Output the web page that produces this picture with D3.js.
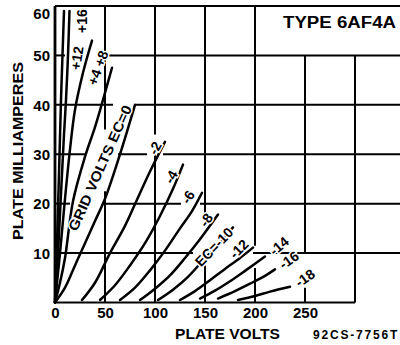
<!DOCTYPE html>
<html><head><meta charset="utf-8">
<script src="https://cdn.jsdelivr.net/npm/d3@7"></script>
<style>
html,body{margin:0;padding:0;background:#fff;}
svg{display:block;}
text{font-family:"Liberation Sans",Arial,sans-serif;font-weight:bold;fill:#000;}
</style></head>
<body>
<svg id="chart" width="400" height="345"></svg>
<script>
// ---- data (plate volts, plate milliamperes) ----
const xTicks = [0, 50, 100, 150, 200, 250];
const yTicks = [10, 20, 30, 40, 50, 60];
const gridVoltLabels = ["+16", "+12", "+4 +8", "GRID VOLTS EC=0", "-2", "-4", "-6", "-8", "EC=-10", "-12", "-14", "-16", "-18"];

const ecP16 = [[0,0],[2,12],[4,26],[6,41],[8,53],[9,59]];
const ecP12 = [[0,0],[3,10],[6,22],[9,34],[11,41],[13,50],[14.5,59]];
const ecP8  = [[0,0],[5,10],[10,21],[15,31],[20,39],[28,46.5],[37,53]];
const ecP4  = [[0,0],[5,4],[10,9],[18,20.5],[30,29.5],[40,35.5],[48,41],[57,47.5]];
const ec0   = [[0,0],[10,3],[20,7.5],[30,12],[40,16.5],[50,21],[65,30],[80,40]];
const ecM2  = [[27,0.5],[40,4],[55,10],[70,15.5],[82,20.8],[95,26.5],[110,32.5]];
const ecM4  = [[45,0.5],[60,3.5],[75,7.5],[90,12],[105,17.5],[118,23],[128,27.9]];
const ecM6  = [[65,0.5],[80,3],[95,6.5],[110,10.5],[125,15],[137,18.5],[147,22.2]];
const ecM8  = [[85,0.5],[100,2.8],[115,5.5],[130,9],[145,12.8],[163,17.8]];
const ecM10 = [[103,0.5],[118,2.6],[133,5.2],[148,8.5],[163,11.8],[178,15.2]];
const ecM12 = [[125,0.5],[140,2.3],[155,4.5],[170,6.8],[185,9],[198,11.1]];
const ecM14 = [[145,0.8],[160,2.4],[175,4.3],[190,6.4],[210,9.3]];
const ecM16 = [[163,0.8],[180,2.3],[195,3.8],[210,5.4],[220,6.7]];
const ecM18 = [[183,0.5],[200,1.3],[215,2.2],[235,3.2]];

const curves = [ecP16, ecP12, ecP8, ecP4, ec0, ecM2, ecM4, ecM6, ecM8, ecM10, ecM12, ecM14, ecM16, ecM18];

// grid segments: [value, from, to]
const vGrid = [[50,0,22.5],[50,35,60],[100,0,30],[100,34,60],[150,0,7.5],[150,18,60],
               [200,0,7],[200,11.5,60],[250,0,3],[250,10,50],[300,0,50]];
const hGrid = [[50,0,10],[50,50,350],[40,0,58],[40,80,350],[30,0,30],[30,63,92],[30,108,350],
               [20,0,15],[20,48,126],[20,145,350],[10,0,138],[10,198,350]];

// ---- layout ----
const svg = d3.select("#chart");
const x = d3.scaleLinear().domain([0, 350]).range([55, 405]);
const y = d3.scaleLinear().domain([0, 60]).range([302.5, 6]);

const g = svg.append("g");

// frame
g.append("line").attr("x1", x(0)).attr("x2", x(0)).attr("y1", y(0)).attr("y2", y(60))
  .attr("stroke", "#000").attr("stroke-width", 2.8);
g.append("line").attr("x1", x(0)).attr("x2", x(350)).attr("y1", y(60)).attr("y2", y(60))
  .attr("stroke", "#000").attr("stroke-width", 2);
g.append("line").attr("x1", x(0)).attr("x2", x(300)).attr("y1", y(0)).attr("y2", y(0))
  .attr("stroke", "#000").attr("stroke-width", 2);

g.selectAll(".vg").data(vGrid).join("line").attr("class", "vg")
  .attr("x1", d => x(d[0])).attr("x2", d => x(d[0]))
  .attr("y1", d => y(d[1])).attr("y2", d => y(d[2]))
  .attr("stroke", "#000").attr("stroke-width", 2);
g.selectAll(".hg").data(hGrid).join("line").attr("class", "hg")
  .attr("y1", d => y(d[0])).attr("y2", d => y(d[0]))
  .attr("x1", d => x(d[1])).attr("x2", d => x(d[2]))
  .attr("stroke", "#000").attr("stroke-width", 2);

// curves
const line = d3.line().x(d => x(d[0])).y(d => y(d[1])).curve(d3.curveCatmullRom.alpha(0.5));
g.selectAll(".curve").data(curves).join("path").attr("class", "curve")
  .attr("d", line).attr("fill", "none").attr("stroke", "#000").attr("stroke-width", 2.5)
  .attr("stroke-linecap", "round");

// axes (tick labels only)
const xAxis = svg.append("g").attr("transform", `translate(0,${y(0)})`)
  .call(d3.axisBottom(x).tickValues(xTicks).tickSize(0).tickPadding(5));
xAxis.select(".domain").remove();
xAxis.selectAll("text").style("font-size", "15px").style("font-family", "Liberation Sans, Arial, sans-serif").style("font-weight", "bold");

const yAxis = svg.append("g").attr("transform", `translate(${x(0)},0)`)
  .call(d3.axisLeft(y).tickValues(yTicks).tickSize(0).tickPadding(5));
yAxis.select(".domain").remove();
yAxis.selectAll("text").style("font-size", "15px").style("font-family", "Liberation Sans, Arial, sans-serif").style("font-weight", "bold")
  .attr("dy", d => d === 60 ? "0.85em" : "0.35em");

// curve labels
const labelPos = [[82,21,-90,0],[77,58,-82,0],[98,68,-70,0],[100,168,-66,136],[155,148,-62,0],[171,177,-60,0],
                  [188,197,-57,0],[206,220,-55,0],[214,247,-46,0],[239,249,-45,0],[279,246,-40,0],[289,260,-35,0],[305,278,-35,0]];
svg.selectAll(".clab").data(gridVoltLabels).join("text").attr("class", "clab")
  .attr("transform", (d, i) => `translate(${labelPos[i][0]},${labelPos[i][1]}) rotate(${labelPos[i][2]})`)
  .attr("text-anchor", "middle").attr("dy", "0.35em")
  .each(function(d, i) { if (labelPos[i][3]) d3.select(this).attr("textLength", labelPos[i][3]).attr("lengthAdjust", "spacingAndGlyphs"); })
  .style("font-size", "14px")
  .style("paint-order", "stroke").style("stroke", "#fff").style("stroke-width", "3px")
  .text(d => d);

// titles
svg.append("text").attr("x", 283).attr("y", 28).attr("textLength", 113).attr("lengthAdjust", "spacingAndGlyphs")
  .style("font-size", "16px").text("TYPE 6AF4A");
svg.append("text").attr("transform", "translate(23,151) rotate(-90)").attr("text-anchor", "middle")
  .style("font-size", "15px").attr("textLength", 178).attr("lengthAdjust", "spacingAndGlyphs")
  .text("PLATE MILLIAMPERES");
svg.append("text").attr("x", 175).attr("y", 339).attr("textLength", 105).attr("lengthAdjust", "spacingAndGlyphs")
  .style("font-size", "14px").text("PLATE VOLTS");
svg.append("text").attr("x", 313).attr("y", 339).style("font-size", "12px").style("letter-spacing", "1.8px")
  .text("92CS-7756T");
</script>
</body></html>
